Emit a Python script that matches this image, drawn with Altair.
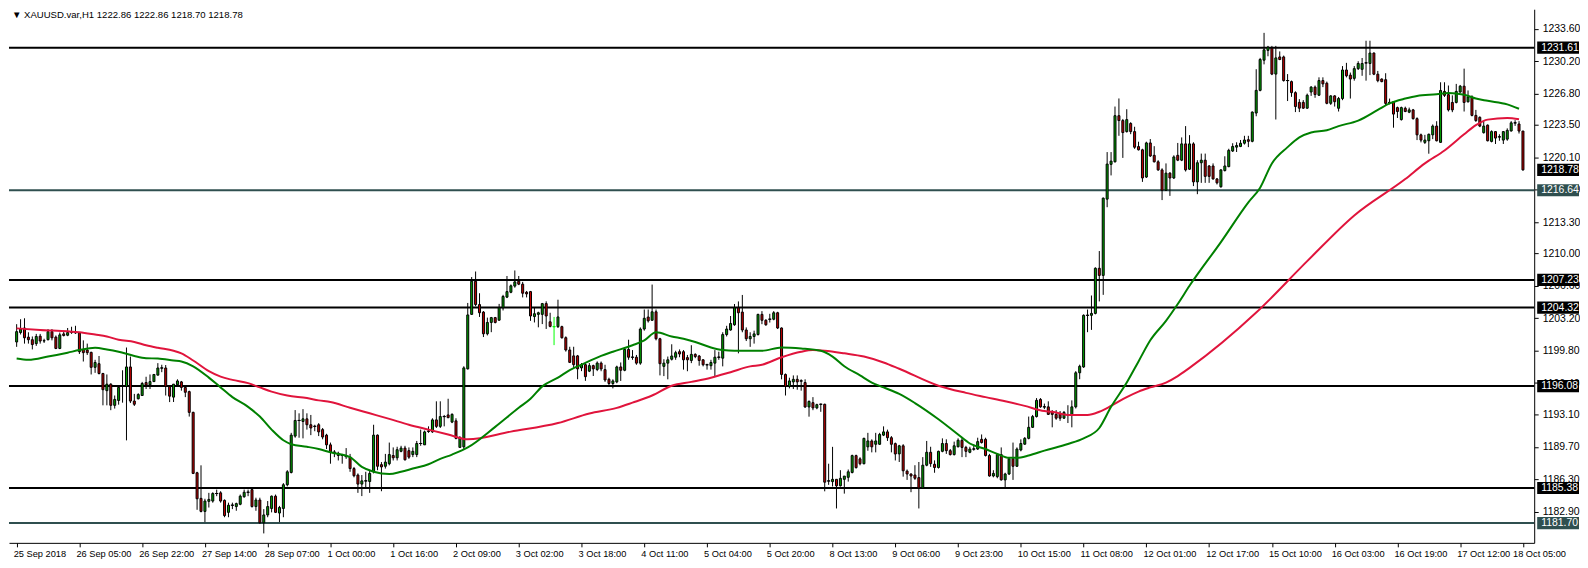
import altair as alt
import pandas as pd

# ---------------- data ----------------
opens = [
1200.71,1201.70,1202.18,1201.22,1200.95,1200.54,1201.32,1200.81,1200.95,1201.80,
1201.22,1200.03,1201.56,1201.42,1201.70,1201.66,1201.66,1199.93,1199.86,1199.62,
1198.05,1198.43,1197.40,1195.60,1196.28,1194.06,1194.57,1196.11,1196.04,1198.09,
1194.51,1194.75,1195.09,1196.45,1196.21,1196.55,1197.23,1197.98,1197.98,1196.04,
1194.92,1196.22,1196.52,1195.94,1195.50,1193.32,1186.98,1184.29,1182.92,1183.98,
1184.01,1184.80,1184.87,1184.08,1182.82,1183.57,1183.43,1183.67,1184.46,1184.93,
1185.21,1183.43,1184.12,1181.73,1182.55,1183.23,1184.52,1182.75,1183.23,1185.72,
1187.01,1190.83,1192.47,1192.36,1192.64,1192.02,1191.85,1192.02,1191.51,1190.93,
1189.91,1189.13,1189.02,1188.79,1188.68,1188.62,1187.42,1186.74,1185.79,1186.13,
1186.06,1187.08,1190.93,1187.83,1187.66,1187.93,1188.79,1188.55,1189.23,1189.57,
1189.30,1188.89,1188.89,1190.05,1189.91,1191.34,1191.27,1192.53,1191.85,1192.88,
1193.05,1192.30,1192.43,1189.64,1189.70,1197.89,1203.61,1207.09,1204.64,1203.85,
1201.57,1202.76,1203.27,1203.00,1204.30,1205.42,1205.93,1206.58,1207.09,1206.78,
1205.93,1206.00,1203.38,1203.61,1203.61,1204.74,1202.83,1202.32,1202.32,1202.32,
1201.16,1199.87,1199.25,1199.25,1197.99,1198.33,1197.65,1198.23,1197.82,1198.49,
1197.81,1196.79,1196.35,1196.52,1198.09,1197.74,1199.93,1199.11,1199.11,1198.49,
1202.07,1203.33,1202.99,1203.88,1201.05,1198.15,1198.49,1198.90,1199.11,1199.69,
1199.69,1199.07,1198.77,1199.41,1199.24,1198.84,1198.32,1198.22,1198.49,1199.11,
1199.01,1201.49,1201.97,1202.52,1204.29,1203.85,1201.97,1201.05,1201.29,1201.49,
1203.61,1202.99,1203.10,1203.10,1203.78,1202.18,1197.30,1196.04,1196.52,1196.79,
1196.62,1196.45,1193.89,1194.34,1193.79,1194.17,1194.17,1186.12,1186.05,1186.29,
1185.61,1186.29,1186.50,1187.01,1188.78,1188.44,1187.93,1189.70,1190.32,1189.97,
1189.97,1190.93,1191.27,1190.66,1190.04,1188.96,1189.81,1187.15,1186.85,1186.74,
1186.47,1185.38,1187.77,1189.13,1187.87,1187.53,1189.23,1190.05,1189.30,1188.89,
1189.71,1190.39,1189.64,1189.13,1189.47,1189.47,1190.49,1190.49,1188.79,1186.64,
1186.57,1188.89,1186.23,1186.85,1188.45,1187.66,1189.37,1189.98,1190.59,1191.75,
1192.88,1194.68,1193.90,1193.90,1193.39,1193.11,1193.22,1192.71,1193.05,1193.05,
1193.90,1197.48,1198.09,1203.51,1203.51,1203.71,1208.45,1207.70,1215.71,1219.36,
1219.63,1224.47,1223.96,1222.80,1223.65,1222.80,1221.23,1220.89,1218.03,1221.61,
1220.31,1219.63,1218.78,1216.63,1218.44,1217.93,1220.31,1219.80,1221.51,1218.85,
1221.51,1217.52,1219.53,1219.80,1219.19,1219.19,1217.83,1217.01,1218.71,1219.12,
1220.76,1221.17,1221.24,1221.58,1221.95,1221.78,1224.75,1227.13,1230.30,1231.33,
1231.56,1228.84,1230.64,1230.64,1228.16,1228.05,1226.89,1225.87,1225.87,1225.26,
1226.96,1227.47,1226.62,1228.16,1227.88,1225.77,1226.55,1225.25,1226.27,1229.27,
1228.73,1228.39,1229.41,1229.34,1230.02,1229.95,1231.05,1228.83,1228.32,1228.25,
1225.86,1225.93,1225.32,1224.06,1225.25,1224.84,1225.08,1224.16,1222.46,1221.67,
1221.84,1222.46,1223.38,1221.67,1227.02,1226.68,1225.86,1225.86,1226.95,1227.57,
1225.93,1226.44,1224.50,1224.30,1222.69,1223.48,1221.77,1222.80,1222.25,1221.91,
1222.01,1222.87,1223.72,1223.60,1222.86]

highs = [
1202.58,1203.10,1203.20,1201.73,1201.29,1201.56,1201.56,1201.05,1202.07,1202.07,
1201.39,1201.70,1201.90,1202.18,1202.31,1202.41,1201.73,1200.88,1200.54,1199.69,
1198.84,1199.24,1197.47,1197.30,1196.38,1195.09,1196.04,1197.74,1200.13,1199.18,
1195.26,1195.33,1196.52,1197.06,1197.30,1197.30,1198.49,1198.32,1198.29,1196.18,
1196.28,1196.79,1196.62,1196.01,1195.60,1193.39,1187.08,1187.76,1184.25,1184.87,
1184.93,1185.21,1185.04,1184.18,1183.84,1183.84,1183.84,1184.69,1185.21,1185.21,
1185.28,1184.36,1184.36,1183.16,1184.01,1184.59,1184.69,1183.50,1185.89,1187.25,
1191.17,1193.56,1193.22,1193.66,1193.22,1193.05,1192.02,1192.19,1191.68,1191.07,
1190.15,1189.36,1189.19,1188.96,1189.57,1188.96,1187.59,1186.91,1186.74,1187.08,
1187.25,1192.02,1191.00,1188.10,1188.96,1190.15,1189.64,1189.71,1189.81,1189.81,
1189.64,1189.64,1190.32,1191.51,1191.41,1191.85,1192.70,1194.48,1194.48,1193.05,
1194.75,1193.22,1192.70,1190.83,1198.16,1204.81,1207.53,1208.11,1205.83,1203.96,
1203.27,1203.34,1203.34,1204.71,1205.66,1207.64,1206.75,1208.22,1207.64,1207.02,
1206.07,1206.07,1204.30,1203.89,1204.81,1204.98,1203.78,1203.34,1205.15,1202.42,
1201.30,1200.21,1200.21,1199.35,1198.50,1198.50,1198.50,1198.33,1198.67,1198.66,
1198.32,1196.96,1196.79,1198.22,1198.56,1200.13,1200.95,1199.86,1199.35,1202.24,
1204.12,1204.12,1206.74,1204.12,1201.15,1198.90,1199.18,1200.47,1199.79,1199.93,
1199.86,1199.35,1200.37,1199.52,1199.35,1198.90,1198.43,1198.84,1199.86,1199.69,
1201.73,1202.41,1203.44,1204.70,1204.97,1205.65,1202.24,1201.73,1201.90,1203.67,
1203.95,1203.10,1203.67,1203.95,1203.88,1202.24,1197.40,1196.96,1197.20,1197.20,
1196.79,1196.79,1194.57,1194.92,1194.23,1194.23,1194.23,1187.93,1189.70,1186.29,
1187.25,1186.63,1187.32,1188.88,1188.88,1188.61,1190.66,1191.17,1190.49,1191.17,
1191.17,1191.85,1191.51,1190.83,1190.15,1189.91,1189.98,1187.32,1186.91,1187.77,
1188.11,1188.62,1190.32,1189.71,1188.28,1189.30,1190.59,1190.49,1189.47,1190.25,
1190.59,1190.66,1189.81,1189.71,1189.98,1190.66,1191.00,1190.66,1188.96,1187.25,
1188.96,1189.64,1186.98,1188.62,1190.15,1189.64,1190.49,1190.73,1192.88,1193.05,
1194.82,1194.82,1194.24,1194.48,1193.56,1193.56,1193.46,1193.46,1194.07,1194.58,
1197.65,1198.33,1203.61,1204.12,1205.59,1208.55,1210.26,1215.88,1220.65,1220.65,
1225.43,1226.28,1224.13,1225.15,1223.79,1223.31,1221.74,1221.00,1221.74,1222.02,
1221.27,1219.80,1218.95,1219.46,1218.54,1220.31,1221.61,1222.19,1223.38,1222.43,
1221.68,1219.80,1220.49,1220.49,1219.29,1219.46,1217.93,1218.85,1220.21,1221.00,
1221.58,1221.68,1221.92,1222.36,1222.36,1224.92,1229.35,1230.54,1233.17,1231.80,
1231.80,1231.80,1231.22,1230.78,1228.84,1228.16,1227.03,1226.21,1226.11,1226.79,
1227.58,1227.64,1228.50,1228.50,1228.05,1226.62,1226.62,1226.44,1229.68,1230.02,
1229.00,1229.68,1230.19,1230.53,1232.34,1232.34,1231.11,1229.17,1228.39,1228.93,
1226.27,1226.00,1225.42,1225.42,1225.42,1225.32,1225.18,1224.30,1222.59,1222.46,
1222.59,1223.55,1223.89,1227.98,1227.98,1227.64,1226.61,1227.81,1227.70,1229.41,
1227.12,1226.61,1225.08,1224.40,1223.89,1223.55,1222.93,1222.86,1222.52,1222.86,
1223.14,1223.90,1224.00,1223.90,1222.86]

lows = [
1200.20,1201.50,1200.54,1200.54,1199.93,1200.30,1200.54,1200.61,1200.88,1200.88,
1199.96,1199.96,1201.29,1201.32,1201.56,1201.56,1199.45,1198.66,1199.35,1197.30,
1197.47,1197.30,1194.06,1194.06,1193.55,1193.72,1194.13,1194.34,1190.38,1194.30,
1193.99,1194.68,1195.09,1195.77,1195.77,1196.52,1197.20,1197.54,1195.09,1194.40,
1194.41,1196.11,1195.60,1194.92,1192.88,1186.84,1183.09,1182.82,1181.80,1183.33,
1183.84,1184.52,1183.84,1182.31,1182.31,1183.16,1182.99,1183.57,1184.36,1184.52,
1183.33,1182.99,1181.63,1180.61,1182.31,1182.82,1182.75,1181.80,1182.31,1185.55,
1186.91,1190.66,1190.66,1190.59,1191.51,1190.93,1191.34,1190.83,1190.49,1189.47,
1187.93,1188.62,1188.27,1187.93,1188.44,1187.08,1186.50,1184.87,1184.53,1185.38,
1184.87,1186.91,1187.25,1185.04,1187.42,1187.76,1188.27,1188.27,1189.13,1188.27,
1188.44,1188.62,1188.62,1189.81,1189.91,1191.17,1191.17,1191.68,1191.68,1191.85,
1192.70,1192.19,1190.49,1189.64,1189.40,1197.82,1203.55,1204.47,1203.34,1201.23,
1201.40,1201.74,1202.66,1202.93,1204.02,1205.32,1205.83,1206.41,1206.68,1205.39,
1205.39,1202.93,1202.76,1202.25,1202.59,1202.08,1202.25,1200.38,1202.18,1201.06,
1199.70,1198.50,1197.99,1196.80,1197.65,1196.63,1197.55,1197.14,1197.65,1197.64,
1196.52,1196.18,1195.84,1196.38,1196.62,1197.64,1198.84,1198.84,1198.32,1198.32,
1201.90,1202.75,1202.93,1200.88,1197.20,1197.13,1196.79,1198.77,1198.84,1199.11,
1197.81,1197.64,1198.49,1199.01,1198.22,1198.15,1197.81,1197.81,1197.13,1198.84,
1198.15,1201.29,1201.90,1202.41,1199.52,1201.73,1200.81,1200.20,1200.54,1201.39,
1202.58,1202.41,1202.75,1202.99,1202.07,1196.79,1195.09,1195.84,1195.77,1195.70,
1195.60,1193.79,1192.87,1193.55,1193.65,1193.38,1185.03,1185.71,1185.54,1183.23,
1185.54,1184.79,1186.05,1186.91,1187.42,1187.76,1187.86,1189.29,1189.12,1189.12,
1189.91,1190.83,1190.32,1189.12,1188.27,1188.11,1186.57,1186.23,1184.94,1186.23,
1183.23,1185.28,1187.66,1187.60,1186.98,1187.42,1189.13,1188.96,1188.79,1188.79,
1189.64,1188.62,1188.62,1189.03,1189.30,1189.37,1190.05,1188.69,1186.57,1186.50,
1186.40,1186.16,1185.48,1186.74,1186.23,1187.60,1189.23,1189.91,1190.49,1191.68,
1192.78,1193.80,1193.66,1193.05,1191.75,1192.54,1192.43,1192.64,1192.20,1191.75,
1193.73,1196.80,1197.99,1201.74,1201.98,1203.61,1204.97,1205.66,1214.86,1218.20,
1219.56,1222.36,1220.04,1222.70,1222.53,1220.99,1220.82,1217.52,1217.93,1220.14,
1219.56,1218.68,1215.61,1216.56,1216.05,1217.82,1219.70,1219.70,1218.61,1218.78,
1217.08,1216.23,1217.42,1217.42,1217.42,1217.76,1217.25,1216.91,1218.61,1219.06,
1220.66,1220.66,1221.17,1221.44,1221.17,1221.68,1224.41,1227.03,1229.86,1230.71,
1228.73,1224.07,1230.30,1228.05,1226.01,1226.45,1224.85,1224.85,1225.19,1225.19,
1226.55,1226.35,1226.55,1227.47,1225.67,1225.60,1225.43,1224.91,1226.10,1228.49,
1226.27,1228.15,1229.27,1228.66,1228.15,1228.73,1228.73,1227.98,1227.98,1225.52,
1225.66,1223.21,1224.23,1223.96,1224.84,1224.74,1224.06,1221.91,1221.67,1221.50,
1220.48,1222.01,1221.77,1221.64,1226.44,1224.91,1224.84,1225.76,1226.89,1224.91,
1225.86,1224.40,1223.82,1223.27,1222.59,1221.77,1221.67,1221.50,1221.84,1221.50,
1221.84,1222.80,1223.40,1222.60,1218.70]

closes = [
1201.80,1202.07,1201.15,1200.95,1200.44,1201.29,1200.81,1200.85,1201.80,1201.15,
1200.03,1201.46,1201.39,1201.70,1201.73,1201.70,1199.69,1199.59,1199.59,1198.05,
1198.56,1197.40,1195.70,1196.28,1194.06,1194.68,1195.94,1196.11,1198.09,1194.51,
1194.17,1195.19,1196.35,1196.18,1196.55,1197.30,1197.98,1197.98,1196.04,1195.02,
1196.28,1196.62,1195.94,1195.43,1193.32,1186.91,1184.25,1182.92,1184.01,1184.18,
1184.80,1184.80,1184.01,1182.48,1183.57,1183.57,1183.74,1184.52,1184.93,1184.93,
1183.43,1184.12,1181.73,1182.55,1183.43,1184.52,1182.82,1183.33,1185.72,1187.08,
1190.93,1192.47,1192.47,1192.64,1192.02,1191.68,1191.85,1191.27,1190.73,1189.91,
1189.13,1189.13,1188.79,1188.79,1188.68,1187.42,1186.67,1185.79,1186.13,1186.13,
1186.91,1190.93,1187.66,1187.59,1188.10,1188.89,1188.55,1189.40,1189.57,1188.34,
1188.62,1189.23,1190.05,1190.05,1191.27,1191.34,1192.53,1191.85,1192.88,1192.88,
1192.77,1193.11,1190.59,1190.66,1197.99,1203.55,1207.09,1204.64,1203.78,1201.57,
1202.76,1203.27,1202.76,1204.30,1205.49,1206.00,1206.61,1207.02,1206.78,1205.83,
1205.76,1203.44,1203.68,1203.78,1204.74,1203.44,1202.35,1202.32,1203.34,1201.16,
1199.87,1198.57,1198.33,1197.89,1198.33,1197.07,1198.23,1197.89,1198.50,1197.88,
1196.72,1196.35,1196.62,1198.09,1197.74,1199.93,1199.11,1199.11,1198.49,1202.07,
1203.20,1202.93,1203.88,1201.05,1198.43,1198.49,1198.84,1199.24,1199.59,1199.45,
1198.84,1198.84,1199.41,1199.18,1198.77,1198.32,1198.32,1198.56,1199.11,1199.11,
1201.49,1202.07,1202.65,1204.29,1203.78,1201.97,1201.05,1201.29,1201.56,1203.61,
1202.99,1202.52,1203.10,1203.78,1202.18,1197.30,1196.04,1196.62,1196.79,1196.52,
1196.62,1193.89,1194.47,1193.79,1194.13,1194.17,1185.99,1186.12,1186.29,1185.61,
1186.39,1186.63,1187.08,1188.78,1187.52,1187.93,1190.59,1190.32,1189.70,1190.32,
1191.00,1191.27,1190.66,1189.97,1188.95,1189.81,1187.19,1186.85,1186.64,1186.40,
1185.38,1187.77,1189.13,1187.94,1187.53,1189.23,1190.05,1189.30,1188.89,1189.81,
1190.39,1189.64,1189.23,1189.47,1189.47,1190.25,1190.15,1188.79,1186.64,1186.91,
1188.89,1186.23,1186.85,1188.45,1187.66,1189.47,1190.05,1190.59,1191.75,1192.88,
1194.58,1193.90,1193.90,1193.11,1193.11,1192.71,1192.71,1193.32,1193.05,1193.90,
1197.48,1198.16,1203.51,1203.51,1203.71,1208.45,1207.70,1215.81,1219.39,1219.70,
1224.47,1223.96,1222.70,1224.06,1222.80,1221.16,1220.89,1217.93,1221.61,1220.24,
1219.63,1218.78,1216.63,1218.44,1217.93,1220.14,1219.80,1221.51,1218.78,1221.51,
1217.52,1219.53,1219.80,1218.10,1218.10,1217.83,1217.42,1218.78,1219.19,1220.83,
1221.24,1221.34,1221.58,1221.92,1221.78,1224.85,1227.13,1230.37,1231.39,1231.67,
1228.84,1230.54,1230.37,1228.16,1228.16,1226.89,1225.43,1225.26,1225.26,1226.62,
1227.47,1226.69,1228.16,1227.81,1225.77,1226.55,1225.94,1226.27,1229.27,1228.66,
1228.32,1229.41,1229.95,1229.95,1230.02,1231.05,1228.83,1228.15,1228.05,1225.76,
1225.86,1224.64,1224.91,1225.32,1224.91,1225.08,1224.16,1222.46,1221.91,1221.91,
1222.52,1223.38,1221.84,1227.12,1226.61,1225.08,1225.08,1227.02,1227.57,1225.86,
1226.44,1224.50,1223.96,1223.38,1223.38,1221.84,1222.80,1222.12,1222.25,1222.80,
1222.93,1223.72,1223.72,1222.86,1218.78]

# moving averages, read at sample bars
fast_ma_bar = [0,3,8,13,16,20,23,26,30,33,36,40,42,45,49,52,55,59,62,65,68,70,74,77,80,85,88,91,95,98,
               101,105,108,111,115,122,128,131,134,138,141,144,149,152,157,160,163,167,170,173,177,180,
               183,187,190,195,200,205,208,211,215,218,221,225,229,235,240,243,247,250,253,255,258,262,
               268,272,276,279,283,286,289,293,296,299,307,314,317,320,324,327,330,334,337,342,347,350,
               354,357,362,365,369,372,375,380,383]
fast_ma_val = [1198.97,1198.84,1199.18,1199.59,1199.86,1200.10,1199.93,1199.69,1199.24,1199.01,1198.97,
               1198.77,1198.67,1198.16,1196.97,1195.94,1194.92,1193.90,1192.88,1191.51,1190.39,1189.98,
               1189.71,1189.47,1189.13,1188.62,1187.59,1187.08,1186.84,1187.08,1187.42,1187.87,1188.44,
               1188.89,1189.64,1191.80,1193.80,1194.75,1196.05,1196.97,1197.75,1198.33,1199.25,1199.69,
               1200.37,1200.88,1201.73,1201.29,1201.05,1200.71,1200.13,1199.86,1199.79,1199.79,1199.79,
               1200.13,1200.03,1199.79,1199.18,1198.16,1197.20,1196.45,1195.94,1195.26,1194.30,1192.60,
               1191.00,1190.05,1189.47,1188.96,1188.55,1188.55,1188.79,1189.30,1190.00,1190.60,1191.68,
               1193.90,1196.45,1198.67,1200.89,1202.93,1204.70,1206.61,1211.20,1215.37,1216.91,1219.46,
               1221.17,1222.19,1222.70,1222.94,1223.38,1223.96,1225.08,1225.76,1226.27,1226.55,1226.72,
               1226.85,1226.68,1226.27,1226.03,1225.66,1225.20]

slow_ma_bar = [0,6,13,16,20,23,26,30,33,36,40,42,45,49,52,55,59,62,65,69,74,77,80,85,90,95,100,105,110,
               115,126,138,146,153,157,162,167,172,177,182,187,190,195,200,203,206,211,216,221,225,235,
               242,247,252,257,262,264,268,273,276,279,283,286,289,293,296,299,316,329,341,354,359,364,
               369,372,375,380,383]
slow_ma_val = [1202.14,1201.97,1201.83,1201.73,1201.49,1201.29,1200.95,1200.71,1200.37,1200.10,1199.79,
               1199.52,1198.77,1197.65,1197.07,1196.73,1196.39,1195.94,1195.50,1195.09,1194.82,1194.58,
               1194.41,1193.80,1193.22,1192.64,1192.02,1191.51,1191.00,1190.49,1191.30,1192.20,1193.20,
               1193.79,1194.34,1195.09,1196.11,1196.52,1196.96,1197.54,1198.15,1198.32,1199.11,1199.69,
               1199.86,1199.79,1199.52,1199.18,1198.56,1197.90,1196.12,1195.37,1194.92,1194.48,1194.00,
               1193.46,1193.39,1193.05,1193.05,1193.39,1194.00,1194.92,1195.50,1195.94,1196.45,1197.13,
               1197.99,1203.80,1209.20,1214.00,1217.82,1219.46,1220.82,1222.52,1223.48,1224.06,1224.23,
               1224.10]

level_prices = [1231.61, 1216.64, 1207.23, 1204.32, 1196.08, 1185.38, 1181.70]
level_kind = ["main", "minor", "main", "main", "main", "main", "minor"]
current_price = 1218.78

price_ticks = [1233.60, 1230.20, 1226.80, 1223.50, 1220.10, 1216.70, 1213.30, 1210.00, 1206.60,
               1203.20, 1199.80, 1196.40, 1193.10, 1189.70, 1186.30, 1182.90, 1179.60]

time_labels = ["25 Sep 2018", "26 Sep 05:00", "26 Sep 22:00", "27 Sep 14:00", "28 Sep 07:00",
               "1 Oct 00:00", "1 Oct 16:00", "2 Oct 09:00", "3 Oct 02:00", "3 Oct 18:00",
               "4 Oct 11:00", "5 Oct 04:00", "5 Oct 20:00", "8 Oct 13:00", "9 Oct 06:00",
               "9 Oct 23:00", "10 Oct 15:00", "11 Oct 08:00", "12 Oct 01:00", "12 Oct 17:00",
               "15 Oct 10:00", "16 Oct 03:00", "16 Oct 19:00", "17 Oct 12:00", "18 Oct 05:00"]
time_label_bar = [0, 16, 32, 48, 64, 80, 96, 112, 128, 144, 160, 176, 192, 208, 224, 240,
                  256, 272, 288, 304, 320, 336, 352, 368, 384]

header = "\u25BC XAUUSD.var,H1  1222.86 1222.86 1218.70 1218.78"
special_bar = 137  # doji drawn in lime in the reference

n = len(opens)
assert len(highs) == n and len(lows) == n and len(closes) == n, (len(opens), len(highs), len(lows), len(closes))

# ---------------- chart ----------------
W, H = 1532, 536
FONT = "Liberation Sans"
UP, DOWN = "#00A000", "#C00000"

xs = alt.Scale(domain=[-0.68, 385.6], nice=False, zero=False)
ys = alt.Scale(domain=[1179.62, 1235.65], nice=False, zero=False)

x_axis = alt.Axis(values=time_label_bar, labels=False, tickSize=4, domainColor="black",
                  tickColor="black", grid=False, title=None)
y_axis = alt.Axis(orient="right", values=price_ticks, format=".2f", tickSize=4, labelPadding=4,
                  domainColor="black", tickColor="black", labelColor="black", labelFont=FONT,
                  labelFontSize=10.5, grid=False, title=None, labelOverlap=False, labelBound=False,
                  labelFlush=False)


def X(f):
    return alt.X(f, type="quantitative", scale=xs, axis=x_axis)


def Y(f):
    return alt.Y(f, type="quantitative", scale=ys, axis=y_axis)


candles = pd.DataFrame({"bar": list(range(n)), "open": opens, "high": highs,
                        "low": lows, "close": closes})
base = alt.Chart(candles)

levels = alt.Chart(pd.DataFrame({"price": level_prices, "kind": level_kind})).mark_rule(
    strokeWidth=2).encode(
    y=Y("price"),
    color=alt.Color("kind:N", scale=alt.Scale(domain=["main", "minor"], range=["black", "#2F4F4F"]),
                    legend=None))

wicks = base.mark_rule(strokeWidth=1).encode(
    x=X("bar"), y=Y("low"), y2="high",
    color=alt.condition("datum.bar == %d" % special_bar, alt.value("#00FF00"), alt.value("black")))

bodies = base.transform_calculate(
    dir="datum.close >= datum.open ? 'up' : 'down'"
).mark_bar(size=2, strokeWidth=1).encode(
    x=X("bar"), y=Y("open"), y2="close",
    fill=alt.Fill("dir:N", scale=alt.Scale(domain=["up", "down"], range=[UP, DOWN]), legend=None),
    stroke=alt.condition("datum.bar == %d" % special_bar, alt.value("#00FF00"), alt.value("black")))

dojis = base.transform_filter("datum.open == datum.close").transform_calculate(
    xl="datum.bar - 0.4", xr="datum.bar + 0.4"
).mark_rule(strokeWidth=1).encode(
    x=X("xl"), x2="xr", y=Y("close"),
    color=alt.condition("datum.bar == %d" % special_bar, alt.value("#00FF00"), alt.value("black")))

slow_ma = alt.Chart(pd.DataFrame({"bar": slow_ma_bar, "val": slow_ma_val})).mark_line(
    strokeWidth=2, interpolate="monotone", color="#E0143C").encode(x=X("bar"), y=Y("val"))
fast_ma = alt.Chart(pd.DataFrame({"bar": fast_ma_bar, "val": fast_ma_val})).mark_line(
    strokeWidth=2, interpolate="monotone", color="#008000").encode(x=X("bar"), y=Y("val"))

box_df = pd.DataFrame({"price": level_prices + [current_price], "kind": level_kind + ["main"]})
boxes = alt.Chart(box_df).transform_calculate(
    lo="datum.price - 0.64", hi="datum.price + 0.64"
).mark_rect().encode(
    x=alt.value(W + 3), x2=alt.value(W + 45), y=Y("lo"), y2="hi",
    color=alt.Color("kind:N", scale=alt.Scale(domain=["main", "minor"], range=["black", "#2F4F4F"]),
                    legend=None))
box_text = alt.Chart(box_df).mark_text(align="left", baseline="middle", color="white", font=FONT,
                                       fontSize=10.5).encode(
    x=alt.value(W + 7), y=Y("price"), text=alt.Text("price:Q", format=".2f"))

tl_df = pd.DataFrame({"bar": time_label_bar, "label": time_labels})
time_text = alt.Chart(tl_df).transform_filter("datum.bar < %d" % time_label_bar[-1]).mark_text(
    align="left", baseline="top", font=FONT, fontSize=9.3, color="black", dx=-3).encode(
    x=X("bar"), y=alt.value(H + 7), text="label:N")
time_text_last = alt.Chart(tl_df).transform_filter("datum.bar == %d" % time_label_bar[-1]).mark_text(
    align="left", baseline="top", font=FONT, fontSize=9.3, color="black", dx=-10).encode(
    x=X("bar"), y=alt.value(H + 7), text="label:N")

title = alt.Chart(pd.DataFrame({"t": [header]})).mark_text(
    align="left", baseline="middle", font=FONT, fontSize=9.6, color="black").encode(
    x=alt.value(3), y=alt.value(6), text="t:N")

chart = alt.layer(levels, wicks, bodies, dojis, slow_ma, fast_ma, boxes, box_text,
                  time_text, time_text_last, title).properties(
    width=W, height=H, padding={"left": 0, "top": 0, "right": 0, "bottom": 0},
    background="white"
).configure_view(stroke=None)

chart.save("out.html", embed_options={"renderer": "svg", "actions": False})
